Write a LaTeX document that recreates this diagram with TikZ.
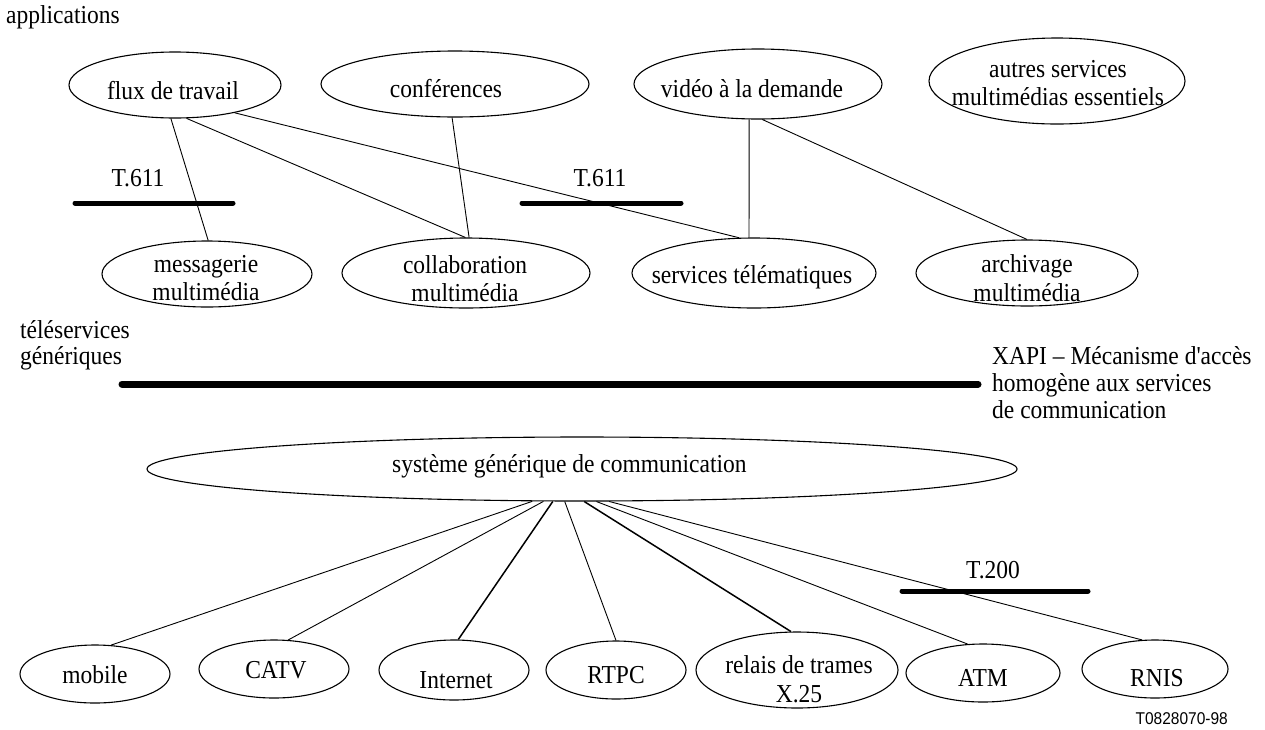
\documentclass[tikz,border=0pt]{standalone}
\usepackage{fontspec}
\setmainfont{Liberation Serif}
\newfontfamily\figsans{Liberation Sans}
\usetikzlibrary{shapes.geometric}
% slightly tall lettering
\newcommand\tl[1]{\scalebox{1}[1.1]{#1}}
\begin{document}
\begin{tikzpicture}[x=1pt,y=-1pt,
  ell/.style={draw, ellipse, line width=1.1pt, inner sep=0pt},
  txt/.style={inner sep=0pt, font=\fontsize{23.5}{27}\selectfont},
  link/.style={line width=0.9pt},
  heavylink/.style={line width=1.5pt},
  stdbar/.style={line width=5pt, line cap=round},
  apibar/.style={line width=7pt, line cap=round}]
\useasboundingbox (0,0) rectangle (1265,729);

% ---------- application level ----------
\node[txt, anchor=base west] (appl) at (6,23) {\tl{applications}};

\node[ell, minimum width=212pt, minimum height=66pt] (flux) at (175,85) {};
\node[txt, anchor=base] (flux-t) at (173,99) {\tl{flux de travail}};
\node[ell, minimum width=268pt, minimum height=66pt] (conf) at (455,84) {};
\node[txt, anchor=base] (conf-t) at (446,97) {\tl{conférences}};
\node[ell, minimum width=248pt, minimum height=70pt] (video) at (758,84) {};
\node[txt, anchor=base] (video-t) at (752,97) {\tl{vidéo à la demande}};
\node[ell, minimum width=256pt, minimum height=86pt] (autres) at (1057,81) {};
\node[txt, anchor=base] (autres-t1) at (1058,77) {\tl{autres services}};
\node[txt, anchor=base] (autres-t2) at (1058,105) {\tl{multimédias essentiels}};

% ---------- generic teleservices ----------
\node[ell, minimum width=210pt, minimum height=66pt] (mess) at (207,274) {};
\node[txt, anchor=base] (mess-t1) at (206,272) {\tl{messagerie}};
\node[txt, anchor=base] (mess-t2) at (206,300) {\tl{multimédia}};
\node[ell, minimum width=248pt, minimum height=70pt] (collab) at (466,273) {};
\node[txt, anchor=base] (collab-t1) at (465,273) {\tl{collaboration}};
\node[txt, anchor=base] (collab-t2) at (465,301) {\tl{multimédia}};
\node[ell, minimum width=244pt, minimum height=70pt] (telem) at (754,273) {};
\node[txt, anchor=base] (telem-t) at (752,283) {\tl{services télématiques}};
\node[ell, minimum width=222pt, minimum height=66pt] (arch) at (1027,273) {};
\node[txt, anchor=base] (arch-t1) at (1027,272) {\tl{archivage}};
\node[txt, anchor=base] (arch-t2) at (1027,301) {\tl{multimédia}};

% T.611 bars
\node[txt, anchor=base] (t611a) at (138,186) {\tl{T.611}};
\coordinate (t611a-w) at (75,203);
\coordinate (t611a-e) at (233,203);
\draw[stdbar] (t611a-w) -- (t611a-e);
\node[txt, anchor=base] (t611b) at (600,186) {\tl{T.611}};
\coordinate (t611b-w) at (522,203);
\coordinate (t611b-e) at (681,203);
\draw[stdbar] (t611b-w) -- (t611b-e);

% links between applications and teleservices
\draw[link] (flux.-97.1) -- (mess.88.3);
\draw[link] (flux.-71) -- (collab.91.6);
\draw[link] (flux.-25.7) -- (telem.113.2);
\draw[link] (conf.-95.2) -- (collab.85.1);
\draw[link] (video.-104.8) -- (telem.98.1);
\draw[link] (video.-83.3) -- (arch.90);

% ---------- XAPI interface ----------
\node[txt, anchor=base west] (tele-1) at (20,338) {\tl{téléservices}};
\node[txt, anchor=base west] (tele-2) at (20,364) {\tl{génériques}};
\coordinate (api-w) at (122,384);
\coordinate (api-e) at (978,384);
\draw[apibar] (api-w) -- (api-e);
\node[txt, anchor=base west] (xapi-1) at (992,364) {\tl{XAPI – Mécanisme d\textquotesingle accès}};
\node[txt, anchor=base west] (xapi-2) at (992,391) {\tl{homogène aux services}};
\node[txt, anchor=base west] (xapi-3) at (992,418) {\tl{de communication}};

% ---------- communication system ----------
\node[ell, minimum width=870pt, minimum height=64pt] (sys) at (582,469) {};
\node[txt, anchor=base west] (sys-t) at (392,472) {\tl{système générique de communication}};

\node[ell, minimum width=150pt, minimum height=58pt] (mobile) at (95,674) {};
\node[txt, anchor=base] (mobile-t) at (95,683) {\tl{mobile}};
\node[ell, minimum width=150pt, minimum height=58pt] (catv) at (274,669) {};
\node[txt, anchor=base] (catv-t) at (276,678) {\tl{CATV}};
\node[ell, minimum width=150pt, minimum height=60pt] (inet) at (454,670) {};
\node[txt, anchor=base] (inet-t) at (456,688) {\tl{Internet}};
\node[ell, minimum width=140pt, minimum height=58pt] (rtpc) at (616,670) {};
\node[txt, anchor=base] (rtpc-t) at (616,683) {\tl{RTPC}};
\node[ell, minimum width=202pt, minimum height=76pt] (relais) at (797,670) {};
\node[txt, anchor=base] (relais-t1) at (799,673) {\tl{relais de trames}};
\node[txt, anchor=base] (relais-t2) at (799,702) {\tl{X.25}};
\node[ell, minimum width=154pt, minimum height=58pt] (atm) at (983,673) {};
\node[txt, anchor=base] (atm-t) at (983,686) {\tl{ATM}};
\node[ell, minimum width=146pt, minimum height=58pt] (rnis) at (1155,669) {};
\node[txt, anchor=base] (rnis-t) at (1157,686) {\tl{RNIS}};

% T.200 bar
\node[txt, anchor=base] (t200) at (993,578) {\tl{T.200}};
\coordinate (t200-w) at (902,591);
\coordinate (t200-e) at (1088,591);
\draw[stdbar] (t200-w) -- (t200-e);

% links from the communication system to the networks
\draw[link] (sys.-147.9) -- (mobile.61.1);
\draw[link] (sys.-140.6) -- (catv.64.2);
\draw[heavylink] (sys.-132.2) -- (inet.82.4);
\draw[link] (sys.-118) -- (rtpc.90);
\draw[heavylink] (sys.-86.4) -- (relais.99);
\draw[link] (sys.-66.4) -- (atm.118.2);
\draw[link] (sys.-50.9) -- (rnis.114.1);

% figure reference
\node[inner sep=0pt, anchor=base east, font=\figsans\fontsize{15.5}{18}\selectfont] (ref) at (1228,724) {\tl{T0828070-98}};
\end{tikzpicture}
\end{document}
